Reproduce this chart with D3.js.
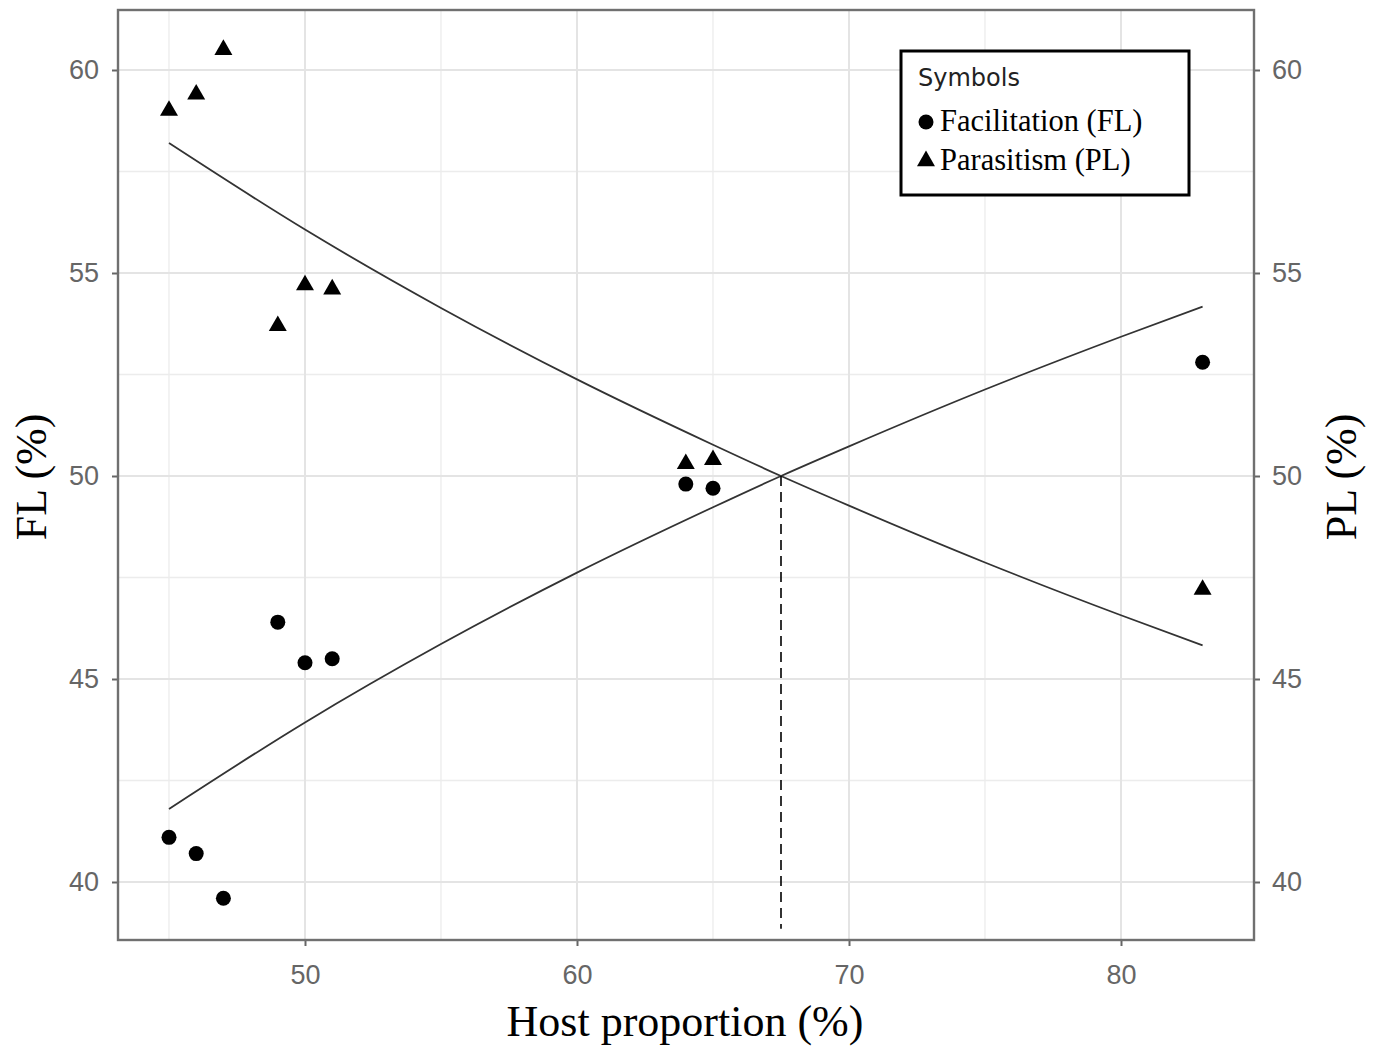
<!DOCTYPE html>
<html>
<head>
<meta charset="utf-8">
<script src="https://cdn.jsdelivr.net/npm/d3@7"></script>
<style>
  html, body { margin: 0; padding: 0; background: #fff; }
  svg { display: block; }
</style>
</head>
<body>
<svg id="chart" width="1377" height="1047"></svg>
<script>
// ---- Data ----
const hostProportion = [45, 46, 47, 49, 50, 51, 64, 65, 83];
const flValues = [41.1, 40.7, 39.6, 46.4, 45.4, 45.5, 49.8, 49.7, 52.8];
const plValues = [59.0, 59.4, 60.5, 53.7, 54.7, 54.6, 50.3, 50.4, 47.2];

// fitted curves
const fitX  = [45, 50, 55, 60, 65, 67.5, 70, 75, 80, 83];
const fitFL = [41.80, 43.93, 45.86, 47.62, 49.23, 50.00, 50.73, 52.13, 53.43, 54.17];
const fitPL = [58.20, 56.07, 54.14, 52.38, 50.77, 50.00, 49.27, 47.87, 46.57, 45.83];

const crossX = 67.5;
const crossY = 50;
const dashBottom = 38.85;

const xTicks = [50, 60, 70, 80];
const xMinor = [45, 55, 65, 75];
const yTicks = [40, 45, 50, 55, 60];
const yMinor = [42.5, 47.5, 52.5, 57.5];

const legendTitle = "Symbols";
const legendLabels = ["Facilitation (FL)", "Parasitism (PL)"];

// ---- Layout ----
const L = 118, R = 1254, T = 10, B = 940;
const svg = d3.select("#chart");

const x = d3.scaleLinear().domain([43.125, 43.125 + (R - L) / 27.2]).range([L, R]);
const y = d3.scaleLinear().domain([60 - (B - 70) / 40.6, 60 + (70 - T) / 40.6]).range([B, T]);

// grid
const grid = svg.append("g");
grid.selectAll(".vminor").data(xMinor).enter().append("line")
  .attr("x1", d => x(d)).attr("x2", d => x(d)).attr("y1", T).attr("y2", B)
  .attr("stroke", "#ececec").attr("stroke-width", 1.3);
grid.selectAll(".hminor").data(yMinor).enter().append("line")
  .attr("y1", d => y(d)).attr("y2", d => y(d)).attr("x1", L).attr("x2", R)
  .attr("stroke", "#ececec").attr("stroke-width", 1.3);
grid.selectAll(".vmajor").data(xTicks).enter().append("line")
  .attr("x1", d => x(d)).attr("x2", d => x(d)).attr("y1", T).attr("y2", B)
  .attr("stroke", "#e4e4e4").attr("stroke-width", 2);
grid.selectAll(".hmajor").data(yTicks).enter().append("line")
  .attr("y1", d => y(d)).attr("y2", d => y(d)).attr("x1", L).attr("x2", R)
  .attr("stroke", "#e4e4e4").attr("stroke-width", 2);

// fitted lines
const line = d3.line().x(d => x(d[0])).y(d => y(d[1])).curve(d3.curveMonotoneX);
svg.append("path").datum(fitX.map((v, i) => [v, fitFL[i]]))
  .attr("d", line).attr("fill", "none").attr("stroke", "#333").attr("stroke-width", 1.8);
svg.append("path").datum(fitX.map((v, i) => [v, fitPL[i]]))
  .attr("d", line).attr("fill", "none").attr("stroke", "#333").attr("stroke-width", 1.8);

// dashed vertical
svg.append("line")
  .attr("x1", x(crossX)).attr("x2", x(crossX))
  .attr("y1", y(crossY)).attr("y2", y(dashBottom))
  .attr("stroke", "#000").attr("stroke-width", 1.6).attr("stroke-dasharray", "10,6");

// points
const tri = d3.symbol().type(d3.symbolTriangle).size(140);
svg.selectAll(".fl").data(hostProportion).enter().append("circle")
  .attr("cx", d => x(d)).attr("cy", (d, i) => y(flValues[i])).attr("r", 7.5).attr("fill", "#000");
svg.selectAll(".pl").data(hostProportion).enter().append("path")
  .attr("d", tri)
  .attr("transform", (d, i) => `translate(${x(d)},${y(plValues[i])})`).attr("fill", "#000");

// axes
const tickFont = "Liberation Sans, Arial, sans-serif";
const xAxis = svg.append("g").attr("transform", `translate(0,${B})`)
  .call(d3.axisBottom(x).tickValues(xTicks).tickSize(6).tickPadding(19));
const yAxisL = svg.append("g").attr("transform", `translate(${L},0)`)
  .call(d3.axisLeft(y).tickValues(yTicks).tickSize(6).tickPadding(13));
const yAxisR = svg.append("g").attr("transform", `translate(${R},0)`)
  .call(d3.axisRight(y).tickValues(yTicks).tickSize(6).tickPadding(12));
[xAxis, yAxisL, yAxisR].forEach(a => {
  a.select(".domain").remove();
  a.selectAll(".tick line").attr("stroke", "#666").attr("stroke-width", 2);
  a.selectAll(".tick text").attr("fill", "#666").attr("font-size", 27).attr("font-family", tickFont);
});

// panel border
svg.append("rect").attr("x", L).attr("y", T).attr("width", R - L).attr("height", B - T)
  .attr("fill", "none").attr("stroke", "#707070").attr("stroke-width", 2.4);

// axis titles
const serif = "Liberation Serif, Times New Roman, serif";
svg.append("text").attr("x", 685).attr("y", 1036).attr("text-anchor", "middle")
  .attr("font-family", serif).attr("font-size", 44).attr("fill", "#000").text("Host proportion (%)");
svg.append("text").attr("transform", `translate(46,477) rotate(-90)`)
  .attr("text-anchor", "middle").attr("font-family", serif).attr("font-size", 44).attr("fill", "#000").text("FL (%)");
svg.append("text").attr("transform", `translate(1356,477) rotate(-90)`)
  .attr("text-anchor", "middle").attr("font-family", serif).attr("font-size", 44).attr("fill", "#000").text("PL (%)");

// legend
const lg = svg.append("g");
lg.append("rect").attr("x", 901).attr("y", 51).attr("width", 288).attr("height", 144)
  .attr("fill", "#fff").attr("stroke", "#000").attr("stroke-width", 3);
lg.append("text").attr("x", 918).attr("y", 86).attr("font-family", "DejaVu Sans, sans-serif")
  .attr("font-size", 24).attr("fill", "#222").text(legendTitle);
lg.append("circle").attr("cx", 926).attr("cy", 122).attr("r", 7.5).attr("fill", "#000");
lg.append("path").attr("d", tri).attr("transform", "translate(926,161)").attr("fill", "#000");
lg.selectAll(".lt").data(legendLabels).enter().append("text")
  .attr("x", 940).attr("y", (d, i) => 131 + i * 39)
  .attr("font-family", serif).attr("font-size", 30.5).attr("fill", "#000").text(d => d);
</script>
</body>
</html>
